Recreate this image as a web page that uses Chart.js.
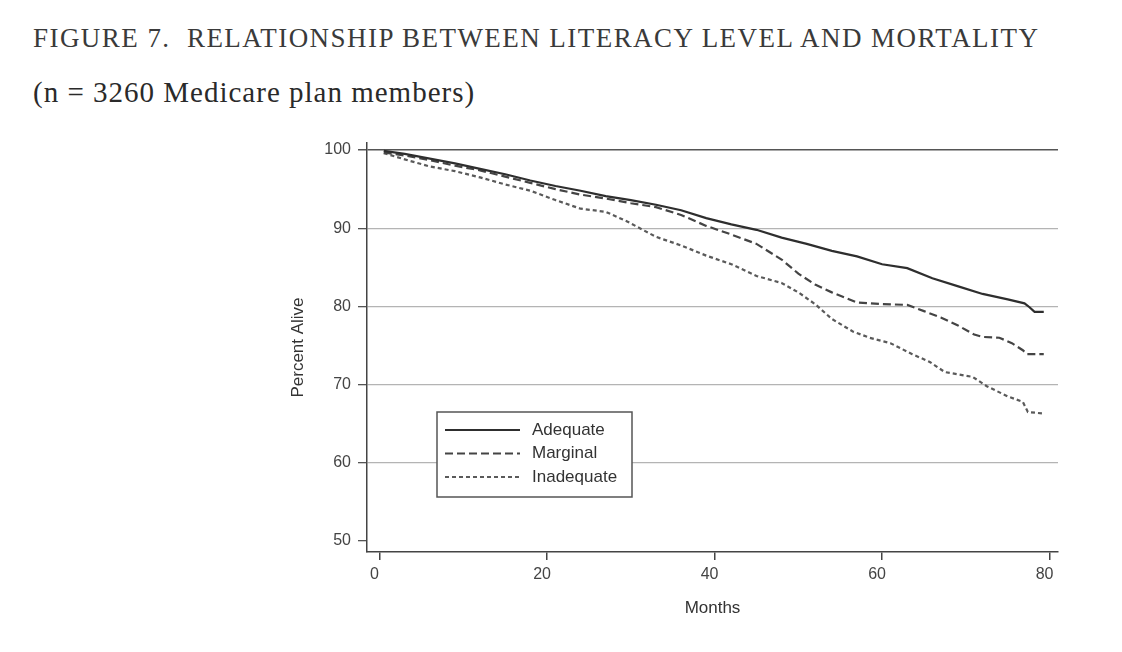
<!DOCTYPE html>
<html lang="en">
<head>
    <meta charset="UTF-8">
    <title>Figure 7 - Literacy level and mortality</title>
    <script src="https://cdn.jsdelivr.net/npm/chart.js"></script>
    <style>
        body {
            margin: 0;
            background-color: #fff;
        }
        .page {
            position: relative;
            width: 1122px;
            height: 652px;
            overflow: hidden;
        }
        .titulo {
            position: absolute;
            left: 33px;
            font-family: "Liberation Serif", "DejaVu Serif", serif;
            color: #3a3a3a;
            white-space: nowrap;
        }
        #t1 {
            top: 23px;
            font-size: 27px;
            letter-spacing: 1.45px;
        }
        #t2 {
            top: 76px;
            font-size: 29px;
            letter-spacing: 1px;
            color: #2a2a2a;
        }
        #chartBox {
            position: absolute;
            left: 0;
            top: 0;
            width: 1122px;
            height: 652px;
        }
    </style>
</head>
<body>

<div class="page">
    <div id="t1" class="titulo">FIGURE 7.&nbsp; RELATIONSHIP BETWEEN LITERACY LEVEL AND MORTALITY</div>
    <div id="t2" class="titulo">(n = 3260 Medicare plan members)</div>
    <div id="chartBox">
        <canvas id="graficoSobrevida"></canvas>
    </div>
</div>

<script>
// valores (meses x % vivos)
const mesesAdequate = [0.5, 3, 6, 9, 12, 15, 18, 21, 24, 27, 30, 33, 36, 39, 42, 45, 48, 51, 54, 57, 60, 63, 66, 69, 72, 75, 77, 77.6, 78.2, 79.3];
const pctAdequate   = [99.9, 99.5, 98.9, 98.3, 97.6, 96.9, 96.1, 95.4, 94.8, 94.1, 93.6, 93.0, 92.3, 91.3, 90.5, 89.8, 88.8, 88.0, 87.1, 86.4, 85.4, 84.9, 83.6, 82.6, 81.6, 80.9, 80.4, 79.9, 79.3, 79.3];

const mesesMarginal = [0.5, 3, 6, 9, 12, 15, 18, 21, 24, 27, 30, 33, 36, 39, 42, 45, 48, 50, 52, 54, 57, 60, 63, 65, 67, 69, 71, 72, 74, 75.5, 76.8, 77.3, 79.3];
const pctMarginal   = [99.7, 99.3, 98.7, 98.0, 97.4, 96.6, 95.8, 95.0, 94.3, 93.8, 93.2, 92.7, 91.7, 90.3, 89.2, 88.0, 86.0, 84.2, 82.8, 81.8, 80.5, 80.3, 80.2, 79.4, 78.6, 77.6, 76.4, 76.1, 76.0, 75.3, 74.4, 73.9, 73.9];

const mesesInadequate = [0.5, 3, 6, 9, 12, 15, 18, 21, 24, 27, 29.5, 33, 36, 39, 42, 45, 48, 50, 52, 54, 56.5, 58.5, 61, 63.6, 65.7, 67.5, 70.8, 72.5, 75, 76.8, 77.4, 79.3];
const pctInadequate   = [99.6, 98.8, 97.9, 97.3, 96.5, 95.6, 94.8, 93.6, 92.5, 92.1, 90.9, 88.9, 87.8, 86.5, 85.4, 83.9, 83.0, 81.8, 80.3, 78.4, 76.8, 76.0, 75.3, 73.9, 72.9, 71.6, 71.0, 69.8, 68.5, 67.8, 66.5, 66.3];

const ticksMeses = [0, 20, 40, 60, 80];
const ticksPct = [50, 60, 70, 80, 90, 100];

function montarPontos(meses, pct) {
    return meses.map((m, i) => ({ x: m, y: pct[i] }));
}

const fonteEixo = { family: "'Liberation Sans', Arial, sans-serif", size: 16 };

// legenda desenhada dentro da area do grafico, como na figura
const legendaInterna = {
    id: 'legendaInterna',
    afterDatasetsDraw(chart) {
        const ctx = chart.ctx;
        const area = chart.chartArea;
        const x0 = area.left + 70;
        const y0 = area.top + 269;
        const w = 195;
        const h = 85;

        ctx.save();
        ctx.fillStyle = '#fff';
        ctx.fillRect(x0, y0, w, h);
        ctx.strokeStyle = '#555';
        ctx.lineWidth = 1.5;
        ctx.strokeRect(x0, y0, w, h);

        ctx.font = "17px 'Liberation Sans', Arial, sans-serif";
        ctx.textBaseline = 'middle';
        chart.data.datasets.forEach((ds, i) => {
            const y = y0 + 18 + i * 23.5;
            ctx.beginPath();
            ctx.setLineDash(ds.borderDash || []);
            ctx.strokeStyle = ds.borderColor;
            ctx.lineWidth = ds.borderWidth;
            ctx.moveTo(x0 + 8, y);
            ctx.lineTo(x0 + 83, y);
            ctx.stroke();
            ctx.setLineDash([]);
            ctx.fillStyle = '#333';
            ctx.fillText(ds.label, x0 + 95, y);
        });
        ctx.restore();
    }
};

const ctx = document.getElementById('graficoSobrevida').getContext('2d');

new Chart(ctx, {
    type: 'line',
    data: {
        datasets: [
            {
                label: 'Adequate',
                data: montarPontos(mesesAdequate, pctAdequate),
                borderColor: '#2e2e2e',
                borderWidth: 2.2,
                pointRadius: 0,
                tension: 0
            },
            {
                label: 'Marginal',
                data: montarPontos(mesesMarginal, pctMarginal),
                borderColor: '#444',
                borderWidth: 2.2,
                borderDash: [8, 4],
                pointRadius: 0,
                tension: 0
            },
            {
                label: 'Inadequate',
                data: montarPontos(mesesInadequate, pctInadequate),
                borderColor: '#5a5a5a',
                borderWidth: 2.2,
                borderDash: [4, 3],
                pointRadius: 0,
                tension: 0
            }
        ]
    },
    options: {
        responsive: true,
        maintainAspectRatio: false,
        animation: false,
        layout: {
            padding: { left: 280, top: 143, right: 64, bottom: 29 }
        },
        plugins: {
            legend: { display: false },
            tooltip: { enabled: false }
        },
        scales: {
            x: {
                type: 'linear',
                min: -1.5,
                max: 81,
                afterBuildTicks: scale => {
                    scale.ticks = ticksMeses.map(v => ({ value: v }));
                },
                afterFit: scale => {
                    scale.height = 71;
                },
                border: { color: '#444', width: 1.5 },
                grid: {
                    drawOnChartArea: false,
                    tickLength: 8,
                    tickColor: '#444',
                    lineWidth: 1.5
                },
                ticks: {
                    font: fonteEixo,
                    color: '#444',
                    padding: 5,
                    labelOffset: -5
                },
                title: {
                    display: true,
                    text: 'Months',
                    font: { family: "'Liberation Sans', Arial, sans-serif", size: 17 },
                    color: '#333'
                }
            },
            y: {
                min: 48.6,
                max: 100.9,
                afterBuildTicks: scale => {
                    scale.ticks = ticksPct.map(v => ({ value: v }));
                },
                afterFit: scale => {
                    scale.width = 87;
                },
                border: { color: '#444', width: 1.5 },
                grid: {
                    color: c => {
                        if (c.tick.value === 100) return '#555';
                        if (c.tick.value === 50) return 'rgba(0,0,0,0)';
                        return '#b4b4b4';
                    },
                    lineWidth: c => c.tick.value === 100 ? 1.5 : 1.3,
                    tickColor: '#555',
                    tickLength: 9
                },
                ticks: {
                    font: fonteEixo,
                    color: '#444',
                    padding: 7
                },
                title: {
                    display: true,
                    text: 'Percent Alive',
                    font: { family: "'Liberation Sans', Arial, sans-serif", size: 17 },
                    color: '#333',
                    padding: { top: 8, bottom: 4 }
                }
            }
        }
    },
    plugins: [legendaInterna]
});
</script>

</body>
</html>
